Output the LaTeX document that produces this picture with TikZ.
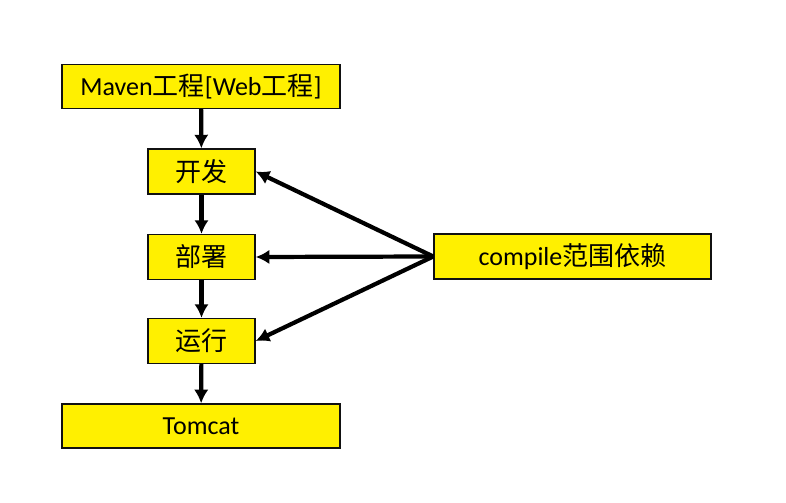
\documentclass[tikz,border=0pt]{standalone}
\usepackage{fontspec}
\setmainfont{Carlito}
\newfontfamily\cjk{Noto Sans CJK SC}
\usepackage{xcolor}
\usetikzlibrary{arrows.meta}
\definecolor{boxfill}{HTML}{FFF000}
\definecolor{edge}{HTML}{111111}
\tikzset{
  wide/.style={draw=edge, fill=boxfill, line width=1pt, minimum width=6.95cm, minimum height=1.1cm, font=\fontsize{18.5}{21}\selectfont, inner sep=0pt},
  small/.style={draw=edge, fill=boxfill, line width=1pt, minimum width=2.675cm, minimum height=1.12cm, font=\fontsize{18.5}{21}\selectfont, inner sep=0pt},
  flow/.style={draw=black, line width=3pt, -{Latex[length=3.4mm,width=3.6mm]}},
}

\begin{document}
\begin{tikzpicture}[x=0.025cm, y=-0.025cm]
  \useasboundingbox[fill=white] (0,0) rectangle (786,503);
  \node[wide] (maven) at (201,86.5) {Maven{\cjk 工程}[Web{\cjk 工程}]};
  \node[small] (dev) at (201.5,171.5) {\cjk 开发};
  \node[small] (deploy) at (201.5,257) {\cjk 部署};
  \node[small] (run) at (201.5,341) {\cjk 运行};
  \node[wide] (tomcat) at (201,426) {Tomcat};
  \node[wide, minimum width=6.925cm, minimum height=1.12cm] (dep) at (572.5,256.5) {compile{\cjk 范围依赖}};
  \draw[flow] (maven) -- (dev);
  \draw[flow] (dev) -- (deploy);
  \draw[flow] (deploy) -- (run);
  \draw[flow] (run) -- (tomcat);
  \foreach \t in {dev,deploy,run} {\draw[flow] (dep.west) -- (\t.east);}
\end{tikzpicture}
\end{document}
